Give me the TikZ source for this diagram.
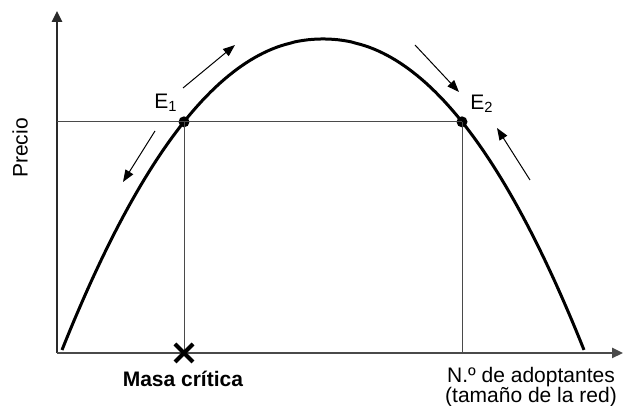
\documentclass[tikz,border=0pt]{standalone}
\usepackage{fontspec}
\setmainfont{Liberation Sans}
\usetikzlibrary{positioning, arrows.meta, shapes.misc, calc}
\definecolor{axisGray}{HTML}{2A2A2A}
\definecolor{guideGray}{HTML}{4A4A4A}

\begin{document}
\begin{tikzpicture}[
  x=0.5pt, y=0.5pt,
  >={Triangle[length=6pt, width=4.5pt]},
  declare function={demand(\x)=367-311*pow(abs(\x-323)/261,2.1);},
  axis/.style={line width=1.2pt, draw=axisGray, -{Triangle[length=5.5pt, width=5pt]}},
  guide/.style={line width=0.5pt, draw=guideGray},
  curve/.style={line width=1.5pt, line join=round},
  trend/.style={->, line width=0.5pt},
  eqdot/.style={circle, fill, inner sep=0pt, minimum size=5.5pt},
  lbl/.style={font=\fontsize{10.5}{10}\selectfont, inner sep=0pt},
]
  \useasboundingbox (0,0) rectangle (623,406);

  % Axes
  \coordinate (O) at (57,53);
  \coordinate (ytip) at (57,395);
  \coordinate (xtip) at (623,53);
  \draw[axis] (O) -- (ytip);
  \draw[axis, draw=guideGray] (O) -- (xtip);

  % Demand curve
  \draw[curve] plot[domain=62:584, samples=120] (\x, {demand(\x)});

  % Equilibria
  \node[eqdot] (E1) at (184,{demand(184)}) {};
  \node[eqdot] (E2) at (462,{demand(462)}) {};
  \node[lbl] (E1lab) at (166,303) {E\textsubscript{1}};
  \node[lbl] (E2lab) at (482,302) {E\textsubscript{2}};

  % Guide lines
  \draw[guide] (O |- E1) -- (E2.center);
  \draw[guide] (E1.center) -- (E1 |- O);
  \draw[guide] (E2.center) -- (E2 |- O);

  % Critical mass mark
  \node[draw, cross out, line width=2pt, minimum size=7pt, inner sep=0pt] (crit) at (E1 |- O) {};

  % Trend arrows
  \coordinate (t1a) at (183,318);  \coordinate (t1b) at (235,361);
  \coordinate (t2a) at (155,275);  \coordinate (t2b) at (123,224);
  \coordinate (t3a) at (415,361);  \coordinate (t3b) at (459,314);
  \coordinate (t4a) at (530,226);  \coordinate (t4b) at (497,278);
  \draw[trend] (t1a) -- (t1b);
  \draw[trend] (t2a) -- (t2b);
  \draw[trend] (t3a) -- (t3b);
  \draw[trend] (t4a) -- (t4b);

  % Labels
  \node[lbl, rotate=90] (price) at (20,258) {Precio};
  \node[lbl] (critlab) at (183,27) {\textbf{Masa crítica}};
  \node[lbl, align=center] (xlab) at (531,19) {N.º de adoptantes\\(tamaño de la red)};
\end{tikzpicture}
\end{document}
